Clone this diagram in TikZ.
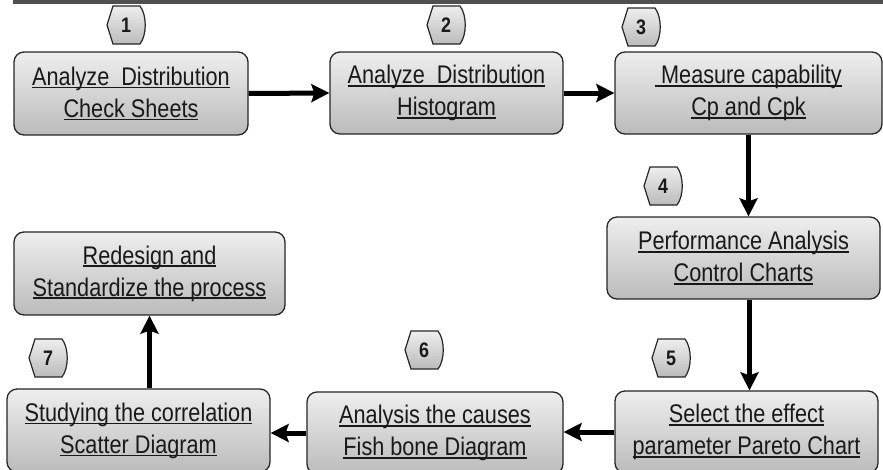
\documentclass[tikz,border=0pt]{standalone}
\usepackage{fontspec}
\setmainfont{Liberation Sans}[FakeStretch=0.85]
\usetikzlibrary{arrows.meta,calc}
\definecolor{boxtop}{HTML}{EEEEEE}
\definecolor{boxbot}{HTML}{BBBBBB}
\definecolor{edge}{HTML}{262626}
\definecolor{barcol}{HTML}{4F4F4F}
% underline at a fixed depth
\newcommand{\undl}[1]{\setbox0=\hbox{#1}\rlap{\rule[-3pt]{\wd0}{1.6pt}}\box0}
% step number: name, centre, number
\newcommand{\numtag}[3]{%
  \shadedraw[top color=boxtop,bottom color=boxbot,draw=edge,line width=1.2pt]
    ($(#2)+(-19,0)$) -- ($(#2)+(-13,-19)$) -- ($(#2)+(14,-19)$)
    .. controls ($(#2)+(21,-10)$) and ($(#2)+(21,10)$) .. ($(#2)+(14,19)$)
    -- ($(#2)+(-13,19)$) -- cycle;
  \node[tagtext] (#1) at (#2) {#3};}
\begin{document}
\begin{tikzpicture}[x=1pt,y=-1pt,
    box/.style={draw=edge,line width=1.3pt,rounded corners=10pt,top color=boxtop,bottom color=boxbot,
      align=center,inner sep=0pt,text=black!90,font=\fontsize{25.5}{32}\selectfont},
    tagtext/.style={font=\fontsize{21}{21}\selectfont\bfseries,text=black!90,inner sep=0pt},
    flow/.style={line width=5pt,-{Stealth[length=18pt,width=18pt,inset=3pt]}}]
  \useasboundingbox (0,0) rectangle (883,469);
  \clip (0,0) rectangle (883,469);
  \fill[barcol] (13,0) rectangle (883,4);
  % first row
  \node[box,minimum width=234pt,minimum height=83pt] (b1) at (131,93.5) {\undl{Analyze~ Distribution}\\\undl{Check Sheets}};
  \node[box,minimum width=233pt,minimum height=82pt] (b2) at (446.5,93) {\undl{Analyze~ Distribution}\\\undl{Histogram}};
  \node[box,minimum width=267pt,minimum height=82pt] (b3) at (748.5,93) {\undl{~Measure capability}\\\undl{Cp and Cpk}};
  % middle row
  \node[box,minimum width=273pt,minimum height=82pt] (b4) at (743.5,258) {\undl{Performance Analysis}\\\undl{Control Charts}};
  \node[box,minimum width=271pt,minimum height=83pt] (b8) at (149.5,273.5) {\undl{Redesign and}\\\undl{Standardize the process}};
  % last row
  \node[box,minimum width=263pt,minimum height=82pt] (b5) at (746.5,432) {\undl{Select the effect}\\\undl{parameter Pareto Chart}};
  \node[box,minimum width=256pt,minimum height=82pt] (b6) at (435,433) {\undl{Analysis the causes}\\\undl{Fish bone Diagram}};
  \node[box,minimum width=263pt,minimum height=83pt] (b7) at (138.5,430.5) {\undl{Studying the correlation}\\\undl{Scatter Diagram}};
  % step numbers
  \numtag{t1}{126,25}{1}
  \numtag{t2}{446,25}{2}
  \numtag{t3}{641,27}{3}
  \numtag{t4}{663,186}{4}
  \numtag{t5}{671,358}{5}
  \numtag{t6}{424,350}{6}
  \numtag{t7}{48,358}{7}
  % connectors
  \draw[flow] (b1.east) -- (b2.west);
  \draw[flow] (b2.east) -- (b3.west);
  \draw[flow] (b3.south) -- (b3.south |- b4.north);
  \draw[flow] ($(b4.south)+(6,0)$) -- ($(b4.south |- b5.north)+(6,0)$);
  \draw[flow] (b5.west) -- (b5.west -| b6.east);
  \draw[flow] (b6.west) -- (b6.west -| b7.east);
  \draw[flow] (b8.south |- b7.north) -- (b8.south);
\end{tikzpicture}
\end{document}
